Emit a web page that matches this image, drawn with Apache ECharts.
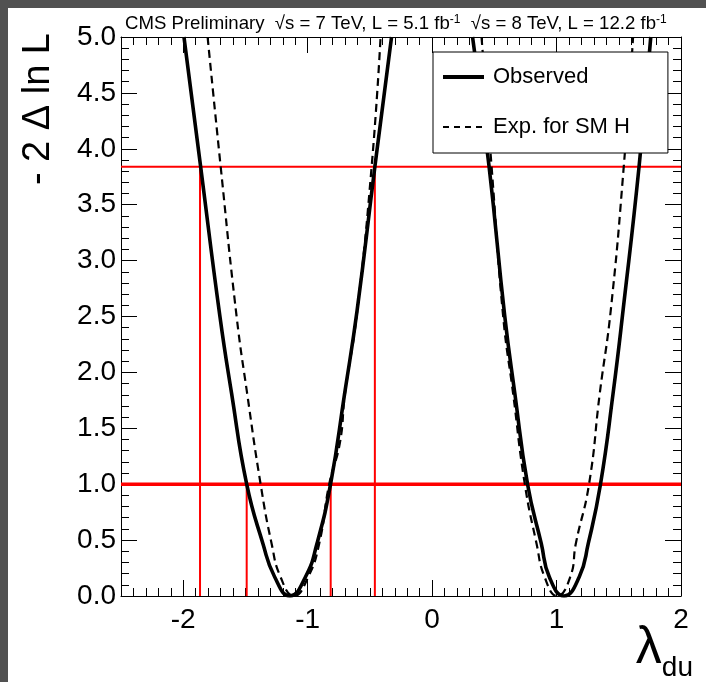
<!DOCTYPE html>
<html><head><meta charset="utf-8">
<script src="https://cdn.jsdelivr.net/npm/echarts@6/dist/echarts.min.js"></script>
<style>
html,body{margin:0;padding:0;background:#515151;width:706px;height:682px;overflow:hidden}
#c{position:absolute;left:8px;top:8px;width:698px;height:674px;background:#fff}
</style>
</head><body><div id="c"></div>
<script>
// ---- data ----
const observedLeft = [[-1.994,5.0],[-1.860,3.84],[-1.705,2.50],[-1.611,1.81],[-1.490,1.0],[-1.360,0.47],[-1.265,0.17],[-1.143,0.0],[-1.018,0.17],[-0.925,0.47],[-0.816,1.0],[-0.703,1.81],[-0.602,2.56],[-0.460,3.84],[-0.326,5.0]];
const observedRight = [[0.325,5.0],[0.458,3.84],[0.584,2.50],[0.665,1.81],[0.767,1.0],[0.877,0.47],[0.942,0.17],[1.060,0.0],[1.182,0.17],[1.255,0.47],[1.353,1.0],[1.454,1.81],[1.535,2.56],[1.663,3.84],[1.757,5.0]];
const expectedLeft = [[-1.804,5.0],[-1.699,3.84],[-1.571,2.50],[-1.486,1.81],[-1.378,1.0],[-1.290,0.47],[-1.218,0.17],[-1.110,0.0],[-0.996,0.17],[-0.907,0.47],[-0.827,1.0],[-0.741,1.37],[-0.700,1.81],[-0.607,2.50],[-0.486,3.84],[-0.414,5.0]];
const expectedRight = [[0.397,5.0],[0.478,3.84],[0.571,2.50],[0.651,1.81],[0.745,1.0],[0.839,0.47],[0.904,0.17],[1.005,0.0],[1.110,0.17],[1.155,0.47],[1.261,1.0],[1.347,1.81],[1.436,2.56],[1.540,3.84],[1.615,5.0]];
const levels = [1.0, 3.84];
const crossings68 = [-1.490, -0.815];   // observed crossings of the 1.0 level
const crossings95 = [-1.865, -0.460];   // observed crossings of the 3.84 level
const xTickLabels = [-2, -1, 0, 1, 2];
const xRange = [-2.5, 2];
const yRange = [0, 5];

const FONT = 'Liberation Sans, Arial, Helvetica, sans-serif';
const chart = echarts.init(document.getElementById('c'), null, {renderer:'canvas'});

const redSeries = [];
levels.forEach((l, i) => {
  redSeries.push({type:'line', silent:true, symbol:'none', z:1,
    lineStyle:{color:'#ff0000', width: i === 0 ? 3.5 : 2},
    data:[[xRange[0], l],[xRange[1], l]]});
});
crossings68.forEach(x => redSeries.push({type:'line', silent:true, symbol:'none', z:1,
  lineStyle:{color:'#ff0000', width:2}, data:[[x,0],[x,levels[0]]]}));
crossings95.forEach(x => redSeries.push({type:'line', silent:true, symbol:'none', z:1,
  lineStyle:{color:'#ff0000', width:2}, data:[[x,0],[x,levels[1]]]}));

const obsStyle = {color:'#000', width:3.6, type:'solid'};
const expStyle = {color:'#000', width:2.2, type:[8,5]};
function curve(name, data, style){
  return {type:'line', name, data, symbol:'none', smooth:0.5, clip:true, z:3,
    lineStyle:style, itemStyle:{color:'#000'}};
}

const tickStyle = {color:'#000', width:1};
function xAx(pos, labels, major){
  const a = {type:'value', position:pos, min:xRange[0], max:xRange[1],
    splitLine:{show:false},
    axisLine:{show:true, onZero:false, lineStyle:{color:'#000', width:1}}};
  if (major) {
    a.axisLine.show = false;
    a.axisTick = {show:true, inside:true, length:16, customValues:xTickLabels, lineStyle:tickStyle};
    a.axisLabel = {show:false};
  } else {
    a.interval = 0.1;
    a.axisTick = {show:true, inside:true, length:8, lineStyle:tickStyle};
    a.axisLabel = labels ? {show:true, customValues:xTickLabels, formatter:v=>String(Math.round(v)),
      fontSize:28, color:'#000', fontFamily:FONT, margin:10} : {show:false};
  }
  return a;
}
function yAx(pos, labels){
  return {type:'value', position:pos, min:yRange[0], max:yRange[1], interval:0.5,
    splitLine:{show:false},
    axisLine:{show:true, onZero:false, lineStyle:{color:'#000', width:1}},
    axisTick:{show:true, inside:true, length:16, lineStyle:tickStyle},
    minorTick:{show:true, splitNumber:5, length:8, lineStyle:tickStyle},
    axisLabel: labels ? {show:true, formatter:v=>v.toFixed(1), fontSize:28, color:'#000', fontFamily:FONT, margin:5} : {show:false}
  };
}

const xa0 = xAx('bottom', true, false);
xa0.name = '{a|λ}{b|du}';
xa0.nameLocation = 'end';
xa0.nameGap = 12;
xa0.nameMoveOverlap = false;
xa0.nameTextStyle = {align:'right', verticalAlign:'top', padding:[30,0,0,0],
  rich:{a:{fontSize:52, fontFamily:FONT, color:'#000', lineHeight:46},
        b:{fontSize:28, fontFamily:FONT, color:'#000', verticalAlign:'bottom', lineHeight:46, padding:[0,0,-10,0]}}};

const ya0 = yAx('left', true);
ya0.name = '- 2 Δ ln L';
ya0.nameLocation = 'end';
ya0.nameRotate = 90;
ya0.nameGap = 4;
ya0.nameMoveOverlap = false;
ya0.nameTextStyle = {fontSize:38, fontFamily:FONT, color:'#000', align:'right', verticalAlign:'bottom', padding:[0,0,63,0]};

const option = {
  animation:false,
  backgroundColor:'#ffffff',
  title:{
    left:117, top:6, padding:0,
    text:'{t|CMS Preliminary  √s = 7 TeV, L = 5.1 fb}{s|-1}{t|  √s = 8 TeV, L = 12.2 fb}{s|-1}',
    textStyle:{fontWeight:'normal', rich:{
      t:{fontSize:18.6, fontWeight:'normal', fontFamily:FONT, color:'#000', lineHeight:20},
      s:{fontSize:12, fontWeight:'normal', fontFamily:FONT, color:'#000', verticalAlign:'top', lineHeight:20, padding:[0,0,10,0]}
    }}
  },
  legend:{
    data:[
      {name:'Observed', lineStyle:{width:4, type:'solid', color:'#000'}},
      {name:'Exp. for SM H', lineStyle:{width:2, type:[6,5], color:'#000'}}
    ],
    orient:'vertical', left:425, top:44,
    itemWidth:41, itemHeight:14, itemGap:28,
    padding:[14,38,15,8],
    borderColor:'#000', borderWidth:1, backgroundColor:'#fff',
    itemStyle:{color:'rgba(0,0,0,0)', borderWidth:0, opacity:0},
    textStyle:{fontSize:22, fontFamily:FONT, color:'#000', lineHeight:22, padding:[0,0,0,4]},
    selectedMode:false
  },
  grid:{left:113, top:29, right:25, bottom:86, containLabel:false},
  xAxis:[xa0, xAx('bottom', false, true), xAx('top', false, false), xAx('top', false, true)],
  yAxis:[ya0, yAx('right', false)],
  series:[
    ...redSeries,
    curve('Observed', observedLeft, obsStyle),
    curve('Observed', observedRight, obsStyle),
    curve('Exp. for SM H', expectedLeft, expStyle),
    curve('Exp. for SM H', expectedRight, expStyle)
  ]
};
chart.setOption(option);
</script></body></html>
